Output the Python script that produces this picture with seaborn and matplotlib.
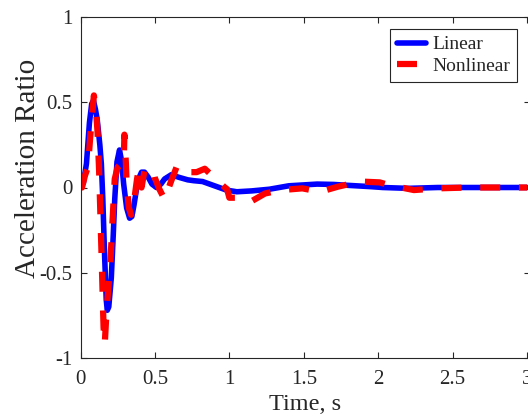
import matplotlib
matplotlib.use("Agg")
import matplotlib.pyplot as plt
from matplotlib.lines import Line2D
import seaborn as sns
import pandas as pd

# ---- data ----
t_linear = [0.0, 0.02, 0.04, 0.06, 0.075, 0.087, 0.10, 0.112, 0.13, 0.14, 0.15, 0.162,
            0.173, 0.18, 0.19, 0.207, 0.22, 0.23, 0.245, 0.262, 0.275, 0.29, 0.31, 0.33,
            0.345, 0.36, 0.385, 0.41, 0.43, 0.455, 0.48, 0.51, 0.54, 0.565, 0.61, 0.66,
            0.72, 0.76, 0.82, 0.9, 0.98, 1.05, 1.15, 1.27, 1.4, 1.59, 1.7, 1.81, 1.95,
            2.03, 2.2, 2.4, 2.6, 3.0]
v_linear = [0.0, 0.03, 0.14, 0.38, 0.49, 0.51, 0.46, 0.40, 0.25, 0.14, -0.07, -0.40,
            -0.66, -0.72, -0.70, -0.53, -0.28, -0.07, 0.15, 0.22, 0.16, 0.02, -0.12, -0.18,
            -0.17, -0.10, 0.04, 0.09, 0.09, 0.06, 0.02, 0.0, 0.02, 0.05, 0.075, 0.06,
            0.045, 0.04, 0.035, 0.01, -0.015, -0.025, -0.02, -0.01, 0.01, 0.02, 0.018, 0.012, 0.005,
            0.0, -0.005, 0.0, 0.0, 0.0]

t_nonlinear = [0.0, 0.01, 0.03, 0.05, 0.07, 0.09, 0.105, 0.115, 0.125, 0.14, 0.155, 0.163,
               0.175, 0.2, 0.215, 0.23, 0.25, 0.275, 0.29, 0.295, 0.30, 0.305, 0.31, 0.325,
               0.34, 0.36, 0.38, 0.39, 0.41, 0.43, 0.46, 0.49, 0.50, 0.53, 0.565, 0.61,
               0.65, 0.71, 0.78, 0.835, 0.97, 0.985, 1.0, 1.05, 1.14, 1.24, 1.35, 1.49,
               1.61, 1.73, 1.88, 2.01, 2.07, 2.24, 2.4, 2.6, 3.0]
v_nonlinear = [0.0, 0.0, 0.07, 0.12, 0.35, 0.54, 0.44, 0.32, 0.10, -0.35, -0.82, -0.92,
               -0.72, -0.45, -0.20, 0.05, 0.12, 0.14, 0.14, 0.31, 0.23, 0.14, 0.02, -0.12,
               -0.16, -0.08, 0.05, 0.10, 0.0, 0.10, 0.08, 0.10, 0.055, -0.01, -0.07, 0.04,
               0.13, 0.09, 0.09, 0.11, 0.0, -0.01, -0.06, -0.06, -0.085, -0.035, -0.015, -0.005,
               -0.025, 0.005, 0.035, 0.03, 0.015, -0.015, -0.005, 0.0, 0.0]

series_names = ["Linear", "Nonlinear"]
x_ticks = [0, 0.5, 1, 1.5, 2, 2.5, 3]
x_tick_labels = ["0", "0.5", "1", "1.5", "2", "2.5", "3"]
y_ticks = [-1, -0.5, 0, 0.5, 1]
y_tick_labels = ["-1", "-0.5", "0", "0.5", "1"]

df_lin = pd.DataFrame({"t": t_linear, "v": v_linear})
df_non = pd.DataFrame({"t": t_nonlinear, "v": v_nonlinear})

sns.set_style("ticks")
plt.rcParams["font.family"] = ["Liberation Serif", "DejaVu Serif"]
plt.rcParams["axes.unicode_minus"] = False

fig = plt.figure(figsize=(5.28, 4.17), dpi=100)
ax = fig.add_axes([80.5 / 528, 59 / 417, (530 - 80.5) / 528, 341 / 417])

sns.lineplot(data=df_lin, x="t", y="v", ax=ax, color=(0, 0, 1), linewidth=4.0,
             sort=False, estimator=None)
sns.lineplot(data=df_non, x="t", y="v", ax=ax, color=(1, 0, 0), linewidth=4.5,
             sort=False, estimator=None)
ax.lines[1].set_dashes([3.2, 3.0])
ax.lines[1].set_dash_capstyle("butt")

ax.set_xlim(0, 3.02)
ax.set_ylim(-1, 1)
ax.set_xticks(x_ticks)
ax.set_xticklabels(x_tick_labels)
ax.set_yticks(y_ticks)
ax.set_yticklabels(y_tick_labels)

txt_color = "#262626"
ax.tick_params(direction="in", length=4, width=0.8, top=True, right=True,
               labelsize=15, colors=txt_color)
ax.tick_params(axis="x", pad=9)
ax.tick_params(axis="y", pad=6)
for s in ax.spines.values():
    s.set_visible(True)
    s.set_color(txt_color)
    s.set_linewidth(0.8)

ax.set_xlabel("Time, s", fontsize=17.5, color=txt_color, labelpad=3)
ax.set_ylabel("Acceleration Ratio", fontsize=21, color=txt_color, labelpad=4)
ax.yaxis.set_label_coords(-0.088, 0.557)

handles = [Line2D([0], [0], color=(0, 0, 1), linewidth=4),
           Line2D([0], [0], color=(1, 0, 0), linewidth=4.5, dashes=[3.2, 3.0])]
leg = ax.legend(handles, series_names, loc="upper right", bbox_to_anchor=(0.971, 0.965),
                fontsize=14, frameon=True, fancybox=False, framealpha=1,
                handlelength=1.5, handletextpad=0.3, borderpad=0.35, labelspacing=0.2,
                borderaxespad=0.0)
leg.get_frame().set_edgecolor(txt_color)
leg.get_frame().set_linewidth(0.8)

fig.savefig("out.png", dpi=100)
